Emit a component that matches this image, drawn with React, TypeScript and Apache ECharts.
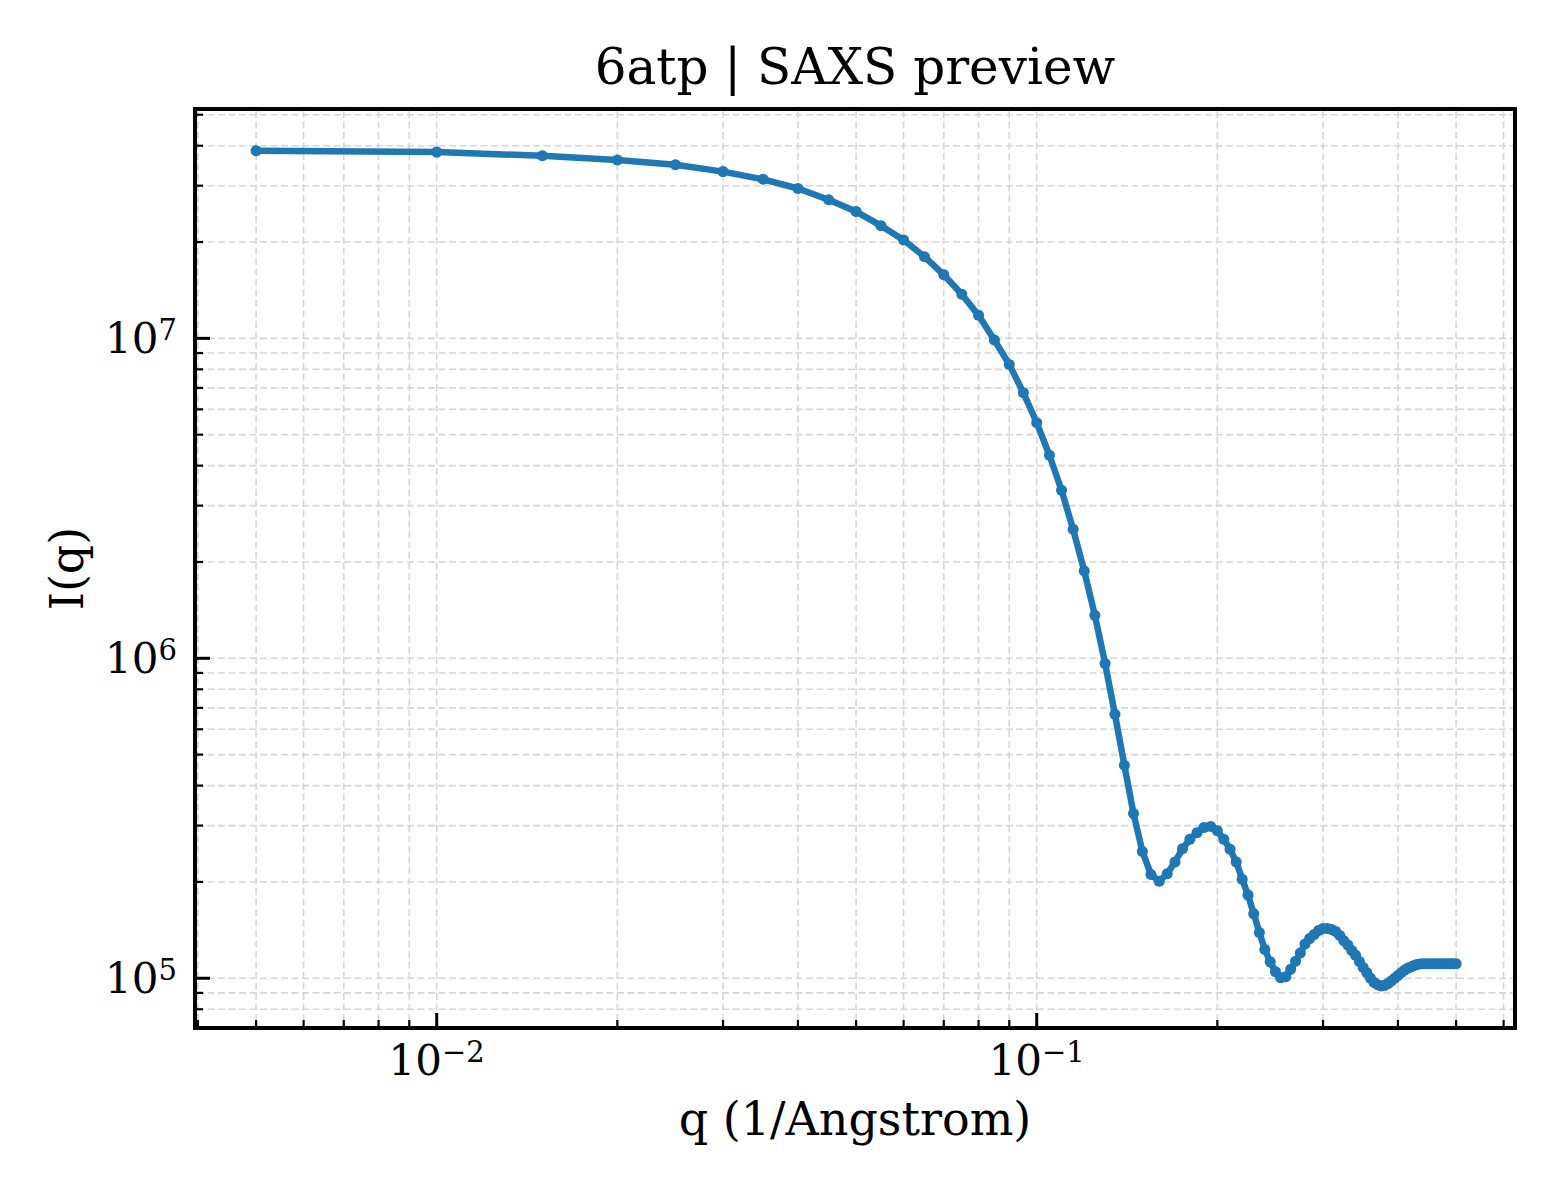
import { useEffect, useRef } from 'react'
import * as echarts from 'echarts'

// ── Data ──────────────────────────────────────────────────────────────────────

const Q = [
  0.005, 0.01, 0.015, 0.02, 0.025, 0.03, 0.035, 0.04, 0.045, 0.05,
  0.055, 0.06, 0.065, 0.07, 0.075, 0.08, 0.085, 0.09, 0.095, 0.1,
  0.105, 0.11, 0.115, 0.12, 0.125, 0.13, 0.135, 0.14, 0.145, 0.15,
  0.155, 0.16, 0.165, 0.17, 0.175, 0.18, 0.185, 0.19, 0.195, 0.2,
  0.205, 0.21, 0.215, 0.22, 0.225, 0.23, 0.235, 0.24, 0.245, 0.25,
  0.255, 0.26, 0.265, 0.27, 0.275, 0.28, 0.285, 0.29, 0.295, 0.3,
  0.305, 0.31, 0.315, 0.32, 0.325, 0.33, 0.335, 0.34, 0.345, 0.35,
  0.355, 0.36, 0.365, 0.37, 0.375, 0.38, 0.385, 0.39, 0.395, 0.4,
  0.405, 0.41, 0.415, 0.42, 0.425, 0.43, 0.435, 0.44, 0.445, 0.45,
  0.455, 0.46, 0.465, 0.47, 0.475, 0.48, 0.485, 0.49, 0.495, 0.5,
]

const INTENSITY = [
  3.86e7, 3.82e7, 3.72e7, 3.61e7, 3.49e7, 3.32e7, 3.14e7, 2.94e7, 2.71e7, 2.49e7,
  2.25e7, 2.03e7, 1.8e7, 1.58e7, 1.373e7, 1.18e7, 9.88e6, 8.29e6, 6.76e6, 5.45e6,
  4.31e6, 3.35e6, 2.53e6, 1.875e6, 1.362e6, 9.64e5, 6.68e5, 4.63e5, 3.27e5, 2.49e5,
  2.11e5, 2.01e5, 2.12e5, 2.31e5, 2.54e5, 2.72e5, 2.85e5, 2.96e5, 2.98e5, 2.89e5,
  2.72e5, 2.53e5, 2.31e5, 2.04e5, 1.82e5, 1.59e5, 1.39e5, 1.23e5, 1.125e5, 1.047e5,
  1.004e5, 1.01e5, 1.066e5, 1.13e5, 1.2e5, 1.28e5, 1.33e5, 1.37e5, 1.41e5, 1.43e5,
  1.43e5, 1.42e5, 1.4e5, 1.36e5, 1.31e5, 1.27e5, 1.22e5, 1.18e5, 1.128e5, 1.08e5,
  1.04e5, 1.0e5, 9.7e4, 9.55e4, 9.46e4, 9.5e4, 9.62e4, 9.81e4, 1.0e5, 1.02e5,
  1.04e5, 1.06e5, 1.074e5, 1.084e5, 1.095e5, 1.104e5, 1.108e5, 1.11e5, 1.11e5, 1.11e5,
  1.11e5, 1.11e5, 1.11e5, 1.11e5, 1.11e5, 1.11e5, 1.11e5, 1.11e5, 1.11e5, 1.11e5,
]

// Axis ranges (log axes)
const Q_MIN = 0.003955
const Q_MAX = 0.6268
const I_MIN = 6.99e4
const I_MAX = 5.21e7

// Tick / grid positions
const X_MAJOR = [0.01, 0.1]
const X_MINOR = [
  0.004, 0.005, 0.006, 0.007, 0.008, 0.009,
  0.02, 0.03, 0.04, 0.05, 0.06, 0.07, 0.08, 0.09,
  0.2, 0.3, 0.4, 0.5, 0.6,
]
const Y_MAJOR = [1e5, 1e6, 1e7]
const Y_MINOR = [
  8e4, 9e4,
  2e5, 3e5, 4e5, 5e5, 6e5, 7e5, 8e5, 9e5,
  2e6, 3e6, 4e6, 5e6, 6e6, 7e6, 8e6, 9e6,
  2e7, 3e7, 4e7, 5e7,
]

const TITLE = '6atp | SAXS preview'
const X_NAME = 'q (1/Angstrom)'
const Y_NAME = 'I(q)'

// ── Layout / style ────────────────────────────────────────────────────────────

const W = 1560
const H = 1200
const GRID = { left: 195, top: 109, width: 1320, height: 919 }
const FONT = 'DejaVu Serif'
const LINE_BLUE = '#1f77b4'
const GRID_GREY = '#d6d6d6'

function powLabel(v: number): string {
  const e = Math.log10(v)
  const r = Math.round(e)
  if (Math.abs(e - r) > 1e-6) return ''
  const exp = r < 0 ? `\u2212${-r}` : `${r}`
  return `{b|10}{s|${exp}}`
}

const labelRich = {
  b: { fontSize: 42, lineHeight: 46, fontFamily: FONT, color: '#000' },
  s: { fontSize: 29, lineHeight: 29, fontFamily: FONT, color: '#000', verticalAlign: 'top' },
}

// ── Custom series: grid lines + ticks ─────────────────────────────────────────

function vGridSeries(values: number[]) {
  return {
    type: 'custom',
    z: 1,
    silent: true,
    clip: false,
    data: values.map((v) => [v, I_MIN]),
    encode: { x: 0, y: 1 },
    renderItem: (params: any, api: any) => {
      const cs = params.coordSys
      const x = api.coord([api.value(0), api.value(1)])[0]
      return {
        type: 'line',
        shape: { x1: x, y1: cs.y + 2, x2: x, y2: cs.y + cs.height - 2 },
        style: { stroke: GRID_GREY, lineWidth: 1.6, lineDash: [7, 3.5] },
      }
    },
  }
}

function hGridSeries(values: number[]) {
  return {
    type: 'custom',
    z: 1,
    silent: true,
    clip: false,
    data: values.map((v) => [Q_MIN, v]),
    encode: { x: 0, y: 1 },
    renderItem: (params: any, api: any) => {
      const cs = params.coordSys
      const y = api.coord([api.value(0), api.value(1)])[1]
      return {
        type: 'line',
        shape: { x1: cs.x + 2, y1: y, x2: cs.x + cs.width - 2, y2: y },
        style: { stroke: GRID_GREY, lineWidth: 1.6, lineDash: [7, 3.5] },
      }
    },
  }
}

// inward ticks on the bottom axis
function xTicks(values: number[], len: number, width: number) {
  return {
    type: 'custom',
    z: 5,
    silent: true,
    clip: false,
    data: values.map((v) => [v, I_MIN]),
    encode: { x: 0, y: 1 },
    renderItem: (params: any, api: any) => {
      const cs = params.coordSys
      const x = api.coord([api.value(0), api.value(1)])[0]
      const yb = cs.y + cs.height
      return {
        type: 'line',
        shape: { x1: x, y1: yb, x2: x, y2: yb - len },
        style: { stroke: '#000', lineWidth: width },
      }
    },
  }
}

// inward ticks on the left axis
function yTicks(values: number[], len: number, width: number) {
  return {
    type: 'custom',
    z: 5,
    silent: true,
    clip: false,
    data: values.map((v) => [Q_MIN, v]),
    encode: { x: 0, y: 1 },
    renderItem: (params: any, api: any) => {
      const cs = params.coordSys
      const y = api.coord([api.value(0), api.value(1)])[1]
      return {
        type: 'line',
        shape: { x1: cs.x, y1: y, x2: cs.x + len, y2: y },
        style: { stroke: '#000', lineWidth: width },
      }
    },
  }
}

// ── Chart ─────────────────────────────────────────────────────────────────────

export default function App() {
  const ref = useRef<HTMLDivElement>(null)

  useEffect(() => {
    document.body.style.margin = '0'
    if (!ref.current) return
    const chart = echarts.init(ref.current, null, { renderer: 'svg' })

    const axisCommon = {
      type: 'log',
      logBase: 10,
      axisLine: { show: false },
      axisTick: { show: false },
      splitLine: { show: false },
      minorTick: { show: false },
      axisLabel: {
        formatter: powLabel,
        showMinLabel: false,
        showMaxLabel: false,
        rich: labelRich,
        color: '#000',
        fontFamily: FONT,
      },
      nameLocation: 'middle',
      nameTextStyle: { fontFamily: FONT, fontSize: 46, lineHeight: 54, color: '#000' },
    }

    chart.setOption({
      animation: false,
      backgroundColor: '#fff',
      grid: {
        ...GRID,
        show: true,
        borderColor: '#000',
        borderWidth: 4,
        backgroundColor: 'transparent',
        containLabel: false,
      },
      graphic: [
        {
          type: 'text',
          x: GRID.left + GRID.width / 2,
          y: 67,
          style: {
            text: TITLE,
            fontFamily: FONT,
            fontSize: 50,
            fill: '#000',
            align: 'center',
            verticalAlign: 'middle',
          },
        },
      ],
      xAxis: {
        ...axisCommon,
        min: Q_MIN,
        max: Q_MAX,
        name: X_NAME,
        nameGap: 64,
        axisLabel: { ...axisCommon.axisLabel, margin: 9 },
      },
      yAxis: {
        ...axisCommon,
        min: I_MIN,
        max: I_MAX,
        name: Y_NAME,
        nameGap: 99,
        nameRotate: 90,
        axisLabel: { ...axisCommon.axisLabel, margin: 18 },
      },
      series: [
        vGridSeries([...X_MAJOR, ...X_MINOR]),
        hGridSeries([...Y_MAJOR, ...Y_MINOR]),
        {
          type: 'line',
          z: 3,
          data: Q.map((q, i) => [q, INTENSITY[i]]),
          symbol: 'circle',
          symbolSize: 11,
          showSymbol: true,
          lineStyle: { color: LINE_BLUE, width: 6.5 },
          itemStyle: { color: LINE_BLUE },
        },
        xTicks(X_MAJOR, 15, 3),
        xTicks(X_MINOR, 8, 2.2),
        yTicks(Y_MAJOR, 15, 3),
        yTicks(Y_MINOR, 8, 2.2),
      ],
    })

    return () => chart.dispose()
  }, [])

  return (
    <div
      ref={ref}
      style={{ position: 'absolute', left: 0, top: 0, width: W, height: H, background: '#fff' }}
    />
  )
}
